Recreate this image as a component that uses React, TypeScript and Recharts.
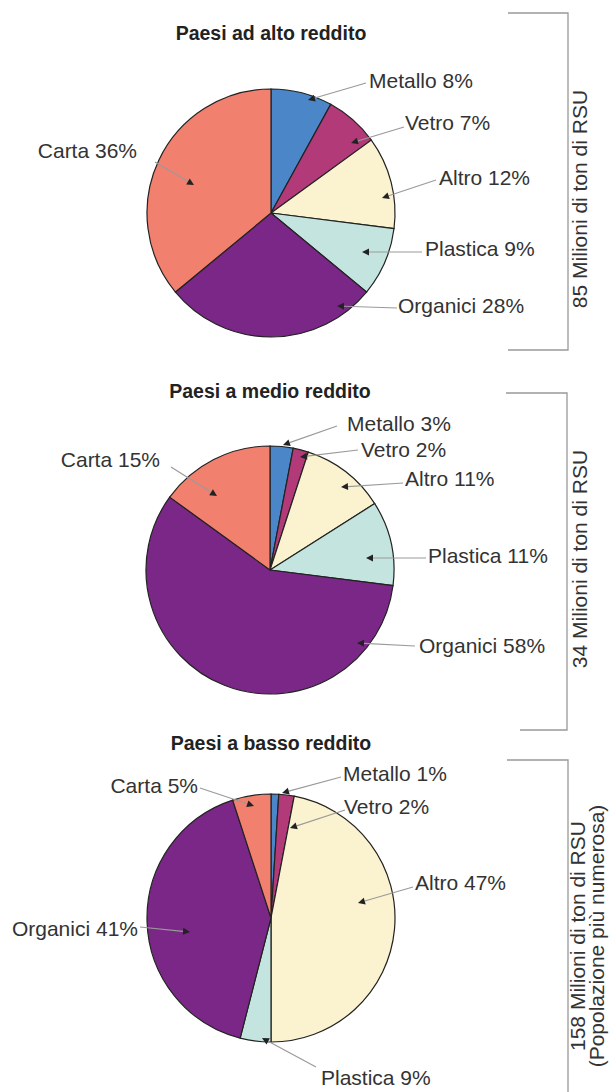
import React from "react";
import { PieChart, Pie, Cell } from "recharts";

const CATEGORIES = ["Metallo", "Vetro", "Altro", "Plastica", "Organici", "Carta"];
const HIGH_INCOME = [8, 7, 12, 9, 28, 36];
const MID_INCOME = [3, 2, 11, 11, 58, 15];
// the drawn plastica slice is ~4% although its label says 9%
const LOW_INCOME = [1, 2, 47, 4, 41, 5];
const LOW_INCOME_LABELS = [1, 2, 47, 9, 41, 5];

const TITLES = ["Paesi ad alto reddito", "Paesi a medio reddito", "Paesi a basso reddito"];
const TOTALS = [
  ["85 Milioni di ton di RSU"],
  ["34 Milioni di ton di RSU"],
  ["158 Milioni di ton di RSU", "(Popolazione più numerosa)"],
];

const COLORS = ["#4a86c8", "#b23a78", "#fbf3d0", "#c4e5df", "#7b2787", "#f2806f"];
const FONT = "Liberation Sans, Arial, sans-serif";

type Pt = [number, number];
type LabelPos = { text: Pt; from: Pt; tip: Pt; anchor: "start" | "end" };

// label placement relative to each pie centre
const LAYOUT: LabelPos[][] = [
  [
    { text: [98, -133], from: [95, -130], tip: [37, -113], anchor: "start" },
    { text: [134, -91], from: [133, -86], tip: [80, -70], anchor: "start" },
    { text: [168, -36], from: [165, -33], tip: [111, -15], anchor: "start" },
    { text: [154, 35], from: [151, 39], tip: [91, 39], anchor: "start" },
    { text: [127, 92], from: [126, 95], tip: [66, 93], anchor: "start" },
    { text: [-134, -63], from: [-116, -51], tip: [-77, -28], anchor: "end" },
  ],
  [
    { text: [77, -147], from: [67, -144], tip: [13, -125], anchor: "start" },
    { text: [91, -121], from: [88, -120], tip: [30, -113], anchor: "start" },
    { text: [135, -92], from: [133, -87], tip: [71, -83], anchor: "start" },
    { text: [158, -15], from: [156, -12], tip: [96, -12], anchor: "start" },
    { text: [149, 75], from: [145, 76], tip: [87, 73], anchor: "start" },
    { text: [-110, -111], from: [-99, -103], tip: [-53, -74], anchor: "end" },
  ],
  [
    { text: [72, -145], from: [70, -141], tip: [11, -125], anchor: "start" },
    { text: [73, -112], from: [74, -108], tip: [19, -90], anchor: "start" },
    { text: [144, -36], from: [142, -31], tip: [87, -15], anchor: "start" },
    { text: [50, 159], from: [45, 149], tip: [-9, 120], anchor: "start" },
    { text: [-133, 10], from: [-131, 9], tip: [-81, 14], anchor: "end" },
    { text: [-73, -133], from: [-71, -130], tip: [-17, -112], anchor: "end" },
  ],
];

const PIES = [
  { values: HIGH_INCOME, labels: HIGH_INCOME, cx: 271, cy: 213 },
  { values: MID_INCOME, labels: MID_INCOME, cx: 270, cy: 570 },
  { values: LOW_INCOME, labels: LOW_INCOME_LABELS, cx: 271, cy: 918 },
];

const W = 609;
const H = 1092;
const R = 124;

function makeLabel(pieIdx: number, labels: number[]) {
  // eslint-disable-next-line @typescript-eslint/no-explicit-any
  return (props: any) => {
    const { cx, cy, index } = props;
    const pos = LAYOUT[pieIdx][index];
    const fx = cx + pos.from[0];
    const fy = cy + pos.from[1];
    const tx = cx + pos.tip[0];
    const ty = cy + pos.tip[1];
    const ang = Math.atan2(ty - fy, tx - fx);
    const len = 7;
    const hw = 3.5;
    const bx = tx - len * Math.cos(ang);
    const by = ty - len * Math.sin(ang);
    const head = [
      `${tx},${ty}`,
      `${bx + hw * Math.sin(ang)},${by - hw * Math.cos(ang)}`,
      `${bx - hw * Math.sin(ang)},${by + hw * Math.cos(ang)}`,
    ].join(" ");
    return (
      <g key={`lab-${pieIdx}-${index}`}>
        <line x1={fx} y1={fy} x2={bx} y2={by} stroke="#9a9a9a" strokeWidth={1.2} />
        <polygon points={head} fill="#222" />
        <text
          x={cx + pos.text[0]}
          y={cy + pos.text[1]}
          textAnchor={pos.anchor}
          dominantBaseline="central"
          fontFamily={FONT}
          fontSize={21}
          fill="#333"
        >
          {`${CATEGORIES[index]} ${labels[index]}%`}
        </text>
      </g>
    );
  };
}

export default function App() {
  return (
    <div style={{ position: "absolute", left: 0, top: 0, width: W, height: H, background: "#fff" }}>
      <PieChart width={W} height={H} margin={{ top: 0, right: 0, bottom: 0, left: 0 }}>
        {PIES.map((p, pi) => (
          <Pie
            key={pi}
            data={CATEGORIES.map((name, i) => ({ name, value: p.values[i] }))}
            dataKey="value"
            nameKey="name"
            cx={p.cx}
            cy={p.cy}
            outerRadius={R}
            startAngle={90}
            endAngle={-270}
            stroke="#222"
            strokeWidth={1.2}
            label={makeLabel(pi, p.labels)}
            labelLine={false}
            isAnimationActive={false}
          >
            {CATEGORIES.map((c, i) => (
              <Cell key={c} fill={COLORS[i]} />
            ))}
          </Pie>
        ))}
      </PieChart>
      <svg width={W} height={H} style={{ position: "absolute", left: 0, top: 0, pointerEvents: "none" }}>
        {TITLES.map((t, i) => (
          <text
            key={t}
            x={PIES[i].cx}
            y={[33, 391, 743][i]}
            textAnchor="middle"
            dominantBaseline="central"
            fontFamily={FONT}
            fontWeight="bold"
            fontSize={19.5}
            fill="#222"
          >
            {t}
          </text>
        ))}
        {/* brackets with totals */}
        <polyline points="508,13 568,13 568,350 508,350" fill="none" stroke="#999" strokeWidth={1.3} />
        <polyline points="506,393 567,393 567,730 520,730" fill="none" stroke="#999" strokeWidth={1.3} />
        <polyline points="507,760 568,760 568,1092" fill="none" stroke="#999" strokeWidth={1.3} />
        {TOTALS.map((lines, i) => {
          const cyc = [199, 559, 936][i];
          const x0 = [579, 579, 577][i];
          return lines.map((ln, j) => (
            <text
              key={ln}
              x={x0 + j * 19}
              y={cyc}
              transform={`rotate(-90 ${x0 + j * 19} ${cyc})`}
              textAnchor="middle"
              dominantBaseline="central"
              fontFamily={FONT}
              fontSize={21}
              fill="#333"
            >
              {ln}
            </text>
          ));
        })}
      </svg>
    </div>
  );
}
